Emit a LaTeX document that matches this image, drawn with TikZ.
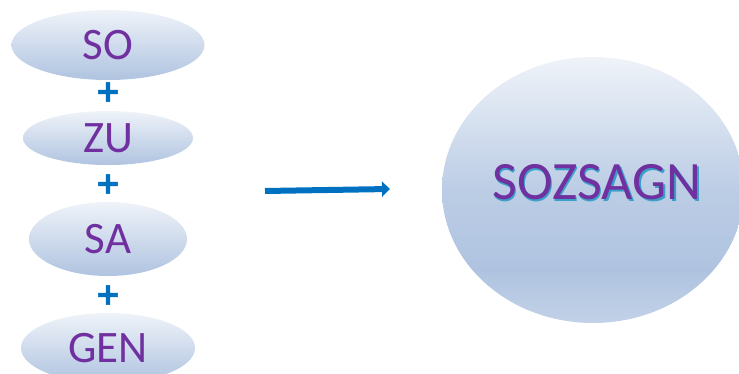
\documentclass[tikz,border=0pt]{standalone}
\usepackage{fontspec}
\setmainfont{Carlito}
\newfontfamily\plusfont[FakeBold=1.5]{DejaVu Sans Bold}
\usetikzlibrary{arrows.meta,shapes.geometric}
\definecolor{txtpurple}{HTML}{7030A0}
\definecolor{plusblue}{HTML}{0070C0}
\definecolor{shtop}{HTML}{EFF3F9}
\definecolor{shbot}{HTML}{AFC3E0}
\definecolor{shadowteal}{HTML}{3AA0C8}
\pgfdeclareverticalshading{bigshade}{100bp}{
  color(0bp)=(shbot!70!shtop); color(25bp)=(shbot!70!shtop); color(35bp)=(shbot);
  color(50bp)=(shbot!80!shtop); color(75bp)=(shtop); color(100bp)=(shtop)}
\tikzset{
  part/.style={ellipse, inner sep=0pt, top color=shtop, bottom color=shbot, draw=none,
    text=txtpurple, font=\fontsize{45}{45}\selectfont},
  plussign/.style={text=plusblue, font=\plusfont\fontsize{31}{31}\selectfont, inner sep=0pt},
  bigword/.style={font=\fontsize{54}{54}\selectfont, inner sep=0pt, text=txtpurple},
}
\begin{document}
\begin{tikzpicture}[x=1pt,y=-1pt]
\useasboundingbox (0,0) rectangle (739,374);
\node[part, minimum width=193pt, minimum height=70pt] (so) at (108,45) {SO};
\node[part, minimum width=170pt, minimum height=54pt] (zu) at (108,138) {ZU};
\node[part, minimum width=158pt, minimum height=74pt] (sa) at (108,239) {SA};
\node[part, minimum width=174pt, minimum height=70pt] (gen) at (108,348) {GEN};
\node[plussign] (p1) at (108,92) {+};
\node[plussign] (p2) at (108,184) {+};
\node[plussign] (p3) at (108,295) {+};
\shade[shading=bigshade] (593,190) ellipse [x radius=151, y radius=133];
\node[ellipse, minimum width=302pt, minimum height=266pt, inner sep=0pt] (big) at (593,190) {};
\node[bigword] (bigtxt) at (597,183) {{\color{shadowteal}\rlap{\hspace{1.5pt}\raisebox{-2.5pt}{SOZSAGN}}}SOZSAGN};
\coordinate (a1) at (265,191);
\coordinate (a2) at (390,189);
\draw[plusblue, line width=6pt, -{Triangle[length=8pt,width=15pt]}] (a1) -- (a2);
\end{tikzpicture}
\end{document}
